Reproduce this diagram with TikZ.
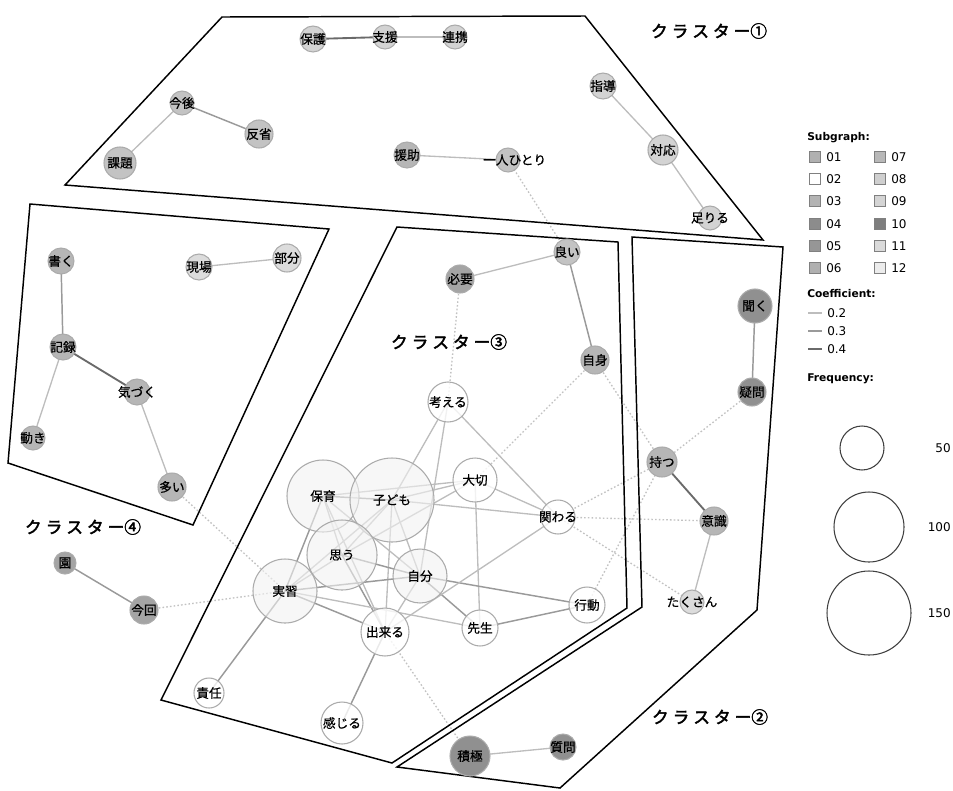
\documentclass[tikz,border=0pt]{standalone}
\usepackage{fontspec}
\setmainfont{DejaVu Sans}
\newfontfamily\jp{Noto Sans CJK JP}
\newfontfamily\jpb[FakeBold=2.5]{Noto Sans CJK JP}
\newfontfamily\jpm[FakeBold=0.6]{Noto Sans CJK JP}
\usetikzlibrary{backgrounds}
\definecolor{ln2}{HTML}{BDBDBD}
\definecolor{ln3}{HTML}{9A9A9A}
\definecolor{ln4}{HTML}{6A6A6A}
\definecolor{dotc}{HTML}{C2C2C2}
\definecolor{nbd}{HTML}{ABABAB}
\definecolor{fA}{HTML}{D3D3D3}
\definecolor{fB}{HTML}{C3C3C3}
\definecolor{fC}{HTML}{B6B6B6}
\definecolor{fD}{HTML}{A4A4A4}
\definecolor{fE}{HTML}{909090}
\definecolor{fL}{HTML}{DCDCDC}
\definecolor{fW}{HTML}{FFFFFF}
\definecolor{fV}{HTML}{F2F2F2}
\definecolor{s01}{HTML}{B0B0B0}
\definecolor{s02}{HTML}{FFFFFF}
\definecolor{s03}{HTML}{B3B3B3}
\definecolor{s04}{HTML}{8C8C8C}
\definecolor{s05}{HTML}{969696}
\definecolor{s06}{HTML}{B0B0B0}
\definecolor{s07}{HTML}{B8B8B8}
\definecolor{s08}{HTML}{CFCFCF}
\definecolor{s09}{HTML}{D4D4D4}
\definecolor{s10}{HTML}{7E7E7E}
\definecolor{s11}{HTML}{DADADA}
\definecolor{s12}{HTML}{ECECEC}
\tikzset{
  vtx/.style={circle, draw=nbd, line width=0.8pt, inner sep=0pt, minimum size=#1*1.5pt},
  lbl/.style={inner sep=0pt, text opacity=1, font=\jpm\fontsize{9.5}{10}\selectfont, text=black},
  e2/.style={draw=ln2, line width=1pt},
  e3/.style={draw=ln3, line width=1.1pt},
  e4/.style={draw=ln4, line width=1.4pt},
  dotl/.style={draw=dotc, line width=1pt, dash pattern=on 1.2pt off 1.6pt},
  hull/.style={draw=black, line width=1.1pt},
  clab/.style={inner sep=0pt, font=\jpb\fontsize{12.5}{13}\selectfont},
  lhead/.style={inner sep=0pt, anchor=west, font=\bfseries\fontsize{8}{9}\selectfont},
  ltxt/.style={inner sep=0pt, anchor=west, font=\fontsize{9}{10}\selectfont},
  sq/.style={draw=gray, line width=0.5pt, minimum size=8.5pt, inner sep=0pt},
  fq/.style={circle, draw=black!75, line width=0.8pt, inner sep=0pt, minimum size=#1*1.5pt},
}
\begin{document}
\begin{tikzpicture}[x=0.75pt, y=-0.75pt]
\useasboundingbox (0,0) rectangle (953,790);
% hulls
\draw[hull] (222,17) -- (585,16) -- (763,240) -- (65,185) -- cycle;
\draw[hull] (30,204) -- (329,229) -- (193,525) -- (8,463) -- cycle;
\draw[hull] (397,227) -- (618,242) -- (627,608) -- (392,763) -- (161,700) -- cycle;
\draw[hull] (632,237) -- (783,247) -- (757,610) -- (560,788) -- (397,767) -- (642,607) -- cycle;
% cluster labels
\node[clab] (cl1) at (709,31) {ク\kern3pt ラ\kern3pt ス\kern3pt タ\kern3pt ー①};
\node[clab] (cl2) at (710,717) {ク\kern3pt ラ\kern3pt ス\kern3pt タ\kern3pt ー②};
\node[clab] (cl3) at (449,342) {ク\kern3pt ラ\kern3pt ス\kern3pt タ\kern3pt ー③};
\node[clab] (cl4) at (83,527) {ク\kern3pt ラ\kern3pt ス\kern3pt タ\kern3pt ー④};
% cluster 1 nodes
\node[vtx=13, fill=fA, label={[lbl]center:保護}] (hogo) at (313,39) {};
\node[vtx=12, fill=fA, label={[lbl]center:支援}] (shien) at (385,37) {};
\node[vtx=12, fill=fA, label={[lbl]center:連携}] (renkei) at (455,37) {};
\node[vtx=12, fill=fB, label={[lbl]center:今後}] (kongo) at (182,103) {};
\node[vtx=14, fill=fB, label={[lbl]center:反省}] (hansei) at (259,134) {};
\node[vtx=16, fill=fB, label={[lbl]center:課題}] (kadai) at (120,163) {};
\node[vtx=13, fill=fC, label={[lbl]center:援助}] (enjo) at (407,155) {};
\node[vtx=12, fill=fB, label={[lbl, xshift=5pt]center:一人ひとり}] (hitori) at (508,160) {};
\node[vtx=13, fill=fA, label={[lbl]center:指導}] (shido) at (603,86) {};
\node[vtx=15, fill=fA, label={[lbl]center:対応}] (taiou) at (663,150) {};
\node[vtx=12, fill=fA, label={[lbl]center:足りる}] (tariru) at (710,218) {};
% cluster 4 nodes
\node[vtx=13, fill=fC, label={[lbl]center:書く}] (kaku) at (61,261) {};
\node[vtx=13, fill=fL, label={[lbl]center:現場}] (genba) at (199,267) {};
\node[vtx=14, fill=fL, label={[lbl]center:部分}] (bubun) at (287,258) {};
\node[vtx=13, fill=fC, label={[lbl]center:記録}] (kiroku) at (63,347) {};
\node[vtx=13, fill=fC, label={[lbl]center:気づく}] (kizuku) at (137,392) {};
\node[vtx=12, fill=fC, label={[lbl]center:動き}] (ugoki) at (33,438) {};
\node[vtx=14, fill=fC, label={[lbl]center:多い}] (ooi) at (172,487) {};
\node[vtx=11, fill=fD, label={[lbl]center:園}] (en) at (65,563) {};
\node[vtx=14, fill=fD, label={[lbl]center:今回}] (konkai) at (144,610) {};
% cluster 3 nodes
\node[vtx=14, fill=fD, label={[lbl]center:必要}] (hitsuyo) at (460,279) {};
\node[vtx=13, fill=fB, label={[lbl]center:良い}] (yoi) at (567,252) {};
\node[vtx=14, fill=fC, label={[lbl]center:自身}] (jishin) at (595,360) {};
\node[vtx=20, fill=fW, fill opacity=0.8, label={[lbl]center:考える}] (kangaeru) at (448,402) {};
\node[vtx=22, fill=fW, fill opacity=0.8, label={[lbl]center:大切}] (taisetsu) at (475,480) {};
\node[vtx=36, fill=fV, fill opacity=0.6, label={[lbl]center:保育}] (hoiku) at (323,496) {};
\node[vtx=42, fill=fV, fill opacity=0.6, label={[lbl]center:子ども}] (kodomo) at (392,500) {};
\node[vtx=35, fill=fV, fill opacity=0.6, label={[lbl]center:思う}] (omou) at (342,555) {};
\node[vtx=27, fill=fV, fill opacity=0.6, label={[lbl]center:自分}] (jibun) at (420,576) {};
\node[vtx=17, fill=fW, fill opacity=0.8, label={[lbl]center:関わる}] (kakawaru) at (558,517) {};
\node[vtx=32, fill=fV, fill opacity=0.6, label={[lbl]center:実習}] (jisshu) at (285,591) {};
\node[vtx=24, fill=fW, fill opacity=0.8, label={[lbl]center:出来る}] (dekiru) at (385,632) {};
\node[vtx=18, fill=fW, fill opacity=0.8, label={[lbl]center:先生}] (sensei) at (480,628) {};
\node[vtx=18, fill=fW, fill opacity=0.8, label={[lbl]center:行動}] (kodo) at (587,605) {};
\node[vtx=15, fill=fW, fill opacity=0.8, label={[lbl]center:責任}] (sekinin) at (209,693) {};
\node[vtx=21, fill=fW, fill opacity=0.8, label={[lbl]center:感じる}] (kanjiru) at (342,723) {};
% cluster 2 nodes
\node[vtx=17, fill=fE, label={[lbl]center:聞く}] (kiku) at (755,306) {};
\node[vtx=14, fill=fE, label={[lbl]center:疑問}] (gimon) at (752,392) {};
\node[vtx=15, fill=fC, label={[lbl]center:持つ}] (motsu) at (662,462) {};
\node[vtx=14, fill=fC, label={[lbl]center:意識}] (ishiki) at (714,521) {};
\node[vtx=12, fill=fL, label={[lbl]center:たくさん}] (takusan) at (692,602) {};
\node[vtx=20, fill=fE, label={[lbl]center:積極}] (sekkyoku) at (470,756) {};
\node[vtx=13, fill=fE, label={[lbl]center:質問}] (shitsumon) at (563,747) {};
% edges
\begin{scope}[on background layer]
\draw[e4] (hogo.center) -- (shien.center);
\draw[e2] (shien.center) -- (renkei.center);
\draw[e3] (kongo.center) -- (hansei.center);
\draw[e2] (kongo.center) -- (kadai.center);
\draw[e2] (enjo.center) -- (hitori.center);
\draw[e2] (shido.center) -- (taiou.center);
\draw[e2] (taiou.center) -- (tariru.center);
\draw[e3] (kaku.center) -- (kiroku.center);
\draw[e4] (kiroku.center) -- (kizuku.center);
\draw[e2] (kiroku.center) -- (ugoki.center);
\draw[e2] (kizuku.center) -- (ooi.center);
\draw[e2] (genba.center) -- (bubun.center);
\draw[e3] (en.center) -- (konkai.center);
\draw[e2] (hitsuyo.center) -- (yoi.center);
\draw[e3] (yoi.center) -- (jishin.center);
\draw[e3] (kiku.center) -- (gimon.center);
\draw[e4] (motsu.center) -- (ishiki.center);
\draw[e2] (ishiki.center) -- (takusan.center);
\draw[e2] (sekkyoku.center) -- (shitsumon.center);
\draw[e2] (kangaeru.center) -- (kodomo.center);
\draw[e2] (kangaeru.center) -- (jibun.center);
\draw[e2] (kangaeru.center) -- (kakawaru.center);
\draw[e2] (taisetsu.center) -- (hoiku.center);
\draw[e2] (taisetsu.center) -- (kodomo.center);
\draw[e2] (taisetsu.center) -- (omou.center);
\draw[e2] (taisetsu.center) -- (kakawaru.center);
\draw[e2] (taisetsu.center) -- (sensei.center);
\draw[e2] (kodomo.center) -- (kakawaru.center);
\draw[e3] (hoiku.center) -- (kodomo.center);
\draw[e2] (hoiku.center) -- (omou.center);
\draw[e3] (hoiku.center) -- (jisshu.center);
\draw[e2] (hoiku.center) -- (jibun.center);
\draw[e2] (hoiku.center) -- (dekiru.center);
\draw[e2] (kodomo.center) -- (omou.center);
\draw[e2] (kodomo.center) -- (jisshu.center);
\draw[e2] (kodomo.center) -- (dekiru.center);
\draw[e2] (kodomo.center) -- (jibun.center);
\draw[e3] (omou.center) -- (jibun.center);
\draw[e2] (omou.center) -- (jisshu.center);
\draw[e3] (omou.center) -- (dekiru.center);
\draw[e3] (jibun.center) -- (jisshu.center);
\draw[e2] (jibun.center) -- (dekiru.center);
\draw[e3] (jibun.center) -- (sensei.center);
\draw[e3] (jibun.center) -- (kodo.center);
\draw[e3] (jisshu.center) -- (dekiru.center);
\draw[e2] (jisshu.center) -- (sensei.center);
\draw[e3] (jisshu.center) -- (sekinin.center);
\draw[e2] (dekiru.center) -- (kakawaru.center);
\draw[e3] (dekiru.center) -- (kanjiru.center);
\draw[e3] (sensei.center) -- (kodo.center);
% dotted
\draw[dotl] (hitori.center) -- (yoi.center);
\draw[dotl] (hitsuyo.center) -- (kangaeru.center);
\draw[dotl] (jishin.center) -- (taisetsu.center);
\draw[dotl] (jishin.center) -- (motsu.center);
\draw[dotl] (gimon.center) -- (motsu.center);
\draw[dotl] (kakawaru.center) -- (motsu.center);
\draw[dotl] (kakawaru.center) -- (ishiki.center);
\draw[dotl] (kakawaru.center) -- (takusan.center);
\draw[dotl] (motsu.center) -- (kodo.center);
\draw[dotl] (dekiru.center) -- (sekkyoku.center);
\draw[dotl] (ooi.center) -- (jisshu.center);
\draw[dotl] (konkai.center) -- (jisshu.center);
\end{scope}
% legend
\node[lhead] (lsub) at (807,138) {Subgraph:};
\node[sq, fill=s01] (q01) at (815,157) {}; \node[ltxt] (t01) at (826,157) {01};
\node[sq, fill=s02] (q02) at (815,179) {}; \node[ltxt] (t02) at (826,179) {02};
\node[sq, fill=s03] (q03) at (815,201) {}; \node[ltxt] (t03) at (826,201) {03};
\node[sq, fill=s04] (q04) at (815,224) {}; \node[ltxt] (t04) at (826,224) {04};
\node[sq, fill=s05] (q05) at (815,246) {}; \node[ltxt] (t05) at (826,246) {05};
\node[sq, fill=s06] (q06) at (815,268) {}; \node[ltxt] (t06) at (826,268) {06};
\node[sq, fill=s07] (q07) at (880,157) {}; \node[ltxt] (t07) at (891,157) {07};
\node[sq, fill=s08] (q08) at (880,179) {}; \node[ltxt] (t08) at (891,179) {08};
\node[sq, fill=s09] (q09) at (880,201) {}; \node[ltxt] (t09) at (891,201) {09};
\node[sq, fill=s10] (q10) at (880,224) {}; \node[ltxt] (t10) at (891,224) {10};
\node[sq, fill=s11] (q11) at (880,246) {}; \node[ltxt] (t11) at (891,246) {11};
\node[sq, fill=s12] (q12) at (880,268) {}; \node[ltxt] (t12) at (891,268) {12};
\node[lhead] (lcoef) at (807,294) {Coefficient:};
\coordinate (ca1) at (808,313); \coordinate (cb1) at (822,313);
\coordinate (ca2) at (808,331); \coordinate (cb2) at (822,331);
\coordinate (ca3) at (808,349); \coordinate (cb3) at (822,349);
\draw[e2] (ca1) -- (cb1); \node[ltxt] (c02) at (827,313) {0.2};
\draw[e3] (ca2) -- (cb2); \node[ltxt] (c03) at (827,331) {0.3};
\draw[e4] (ca3) -- (cb3); \node[ltxt] (c04) at (827,349) {0.4};
\node[lhead] (lfreq) at (807,379) {Frequency:};
\node[fq=22] (f50) at (862,448) {};
\node[fq=35] (f100) at (869,527) {};
\node[fq=42] (f150) at (869,613) {};
\node[ltxt, anchor=east] (n50) at (951,448) {50};
\node[ltxt, anchor=east] (n100) at (951,527) {100};
\node[ltxt, anchor=east] (n150) at (951,613) {150};
\end{tikzpicture}
\end{document}
